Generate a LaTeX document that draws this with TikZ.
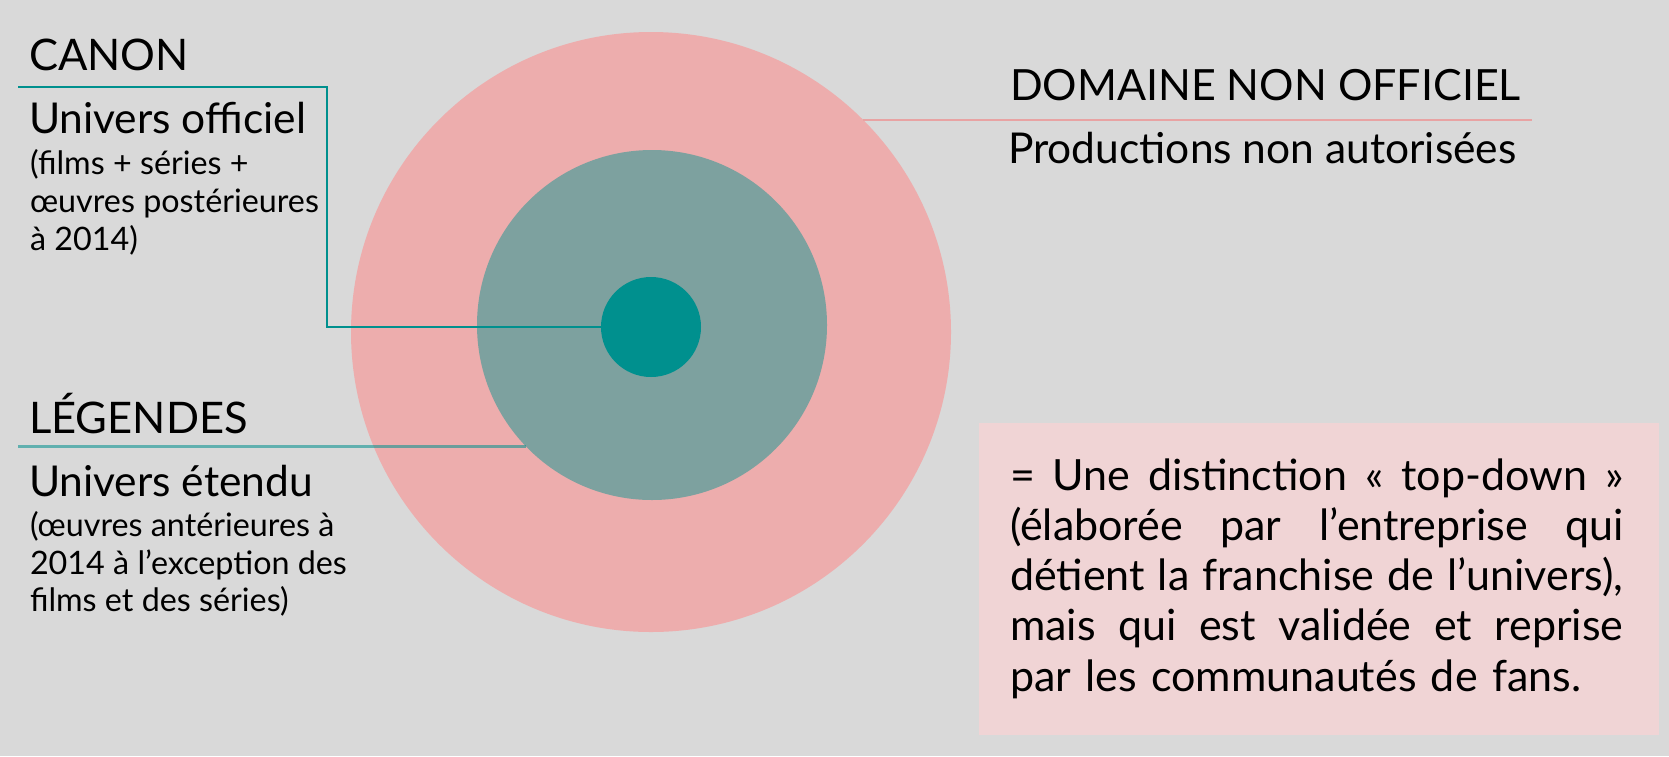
\documentclass[tikz,border=0pt]{standalone}
\usepackage{fontspec}
\setmainfont{Lato}
\definecolor{bgc}{HTML}{D9D9D9}
\definecolor{pinkc}{HTML}{EDADAD}
\definecolor{midc}{HTML}{7DA19F}
\definecolor{tealc}{HTML}{00908E}
\definecolor{pinkline}{HTML}{E8A3A3}
\definecolor{boxc}{HTML}{F0D4D5}
\newcommand{\fullline}[1]{\makebox[613.5pt][s]{\spaceskip=0.26em plus 1fil\relax #1}}
\begin{document}
\begin{tikzpicture}[x=1pt,y=-1pt,
  txt/.style={inner sep=0pt, outer sep=0pt, text=black, anchor=base west},
  caps/.style={txt, font=\fontsize{43.5}{50}\selectfont},
  big/.style={txt, font=\fontsize{42.5}{50}\selectfont},
  small/.style={txt, align=left, font=\fontsize{32.3}{37.7}\selectfont},
  disc/.style={circle, inner sep=0pt, outer sep=0pt, draw=none}]
\path[use as bounding box, fill=bgc] (0,0) rectangle (1669,756);
% circles
\node[disc, fill=pinkc, minimum size=600pt] (outer) at (651,332) {};
\node[disc, fill=midc, minimum size=350pt] (mid) at (652,325) {};
\node[disc, fill=tealc, minimum size=100pt] (inner) at (651,327) {};
% box
\node[fill=boxc, minimum width=680pt, minimum height=312pt, inner sep=0pt, anchor=north west] (box) at (979,423) {};
% left texts
\node[caps] (canon) at (29,70.7) {CANON};
\node[big] (offic) at (29,133.3) {Univers officiel};
\node[small] (officd) at (30,250) {(films + séries +\\œuvres postérieures\\à 2014)};
\node[caps] (leg) at (29,433.3) {LÉGENDES};
\node[big] (etendu) at (29,496.7) {Univers étendu};
\node[small] (etendud) at (30,611.7) {(œuvres antérieures à\\2014 à l’exception des\\films et des séries)};
% right texts
\node[caps, font=\fontsize{43}{50}\selectfont] (dom) at (1010,100) {DOMAINE NON OFFICIEL};
\node[big] (prod) at (1008,163.3) {Productions non autorisées};
\node[txt, text width=613.5pt, align=left, font=\fontsize{43}{50.3}\selectfont] (desc) at (1010,490)
  {\fullline{= Une distinction «~top-down~»}\\
   \fullline{(élaborée par l’entreprise qui}\\
   \fullline{détient la franchise de l’univers),}\\
   \fullline{mais qui est validée et reprise}\\
   par les communautés de fans.};
% connectors
\coordinate (cs) at (18,87.3);
\coordinate (cc) at (327,87.3);
\draw[tealc, line width=2.2pt] (cs) -- (cc) |- (inner.west);
\coordinate (le) at (mid.224.5);
\coordinate (ls) at (18,0 |- le);
\draw[tealc, opacity=0.55, line width=2.5pt] (ls) -- (le);
\coordinate (ds) at (outer.45.3);
\coordinate (de) at (1532,0 |- ds);
\draw[pinkline, line width=2.2pt] (ds) -- (de);
\end{tikzpicture}
\end{document}
